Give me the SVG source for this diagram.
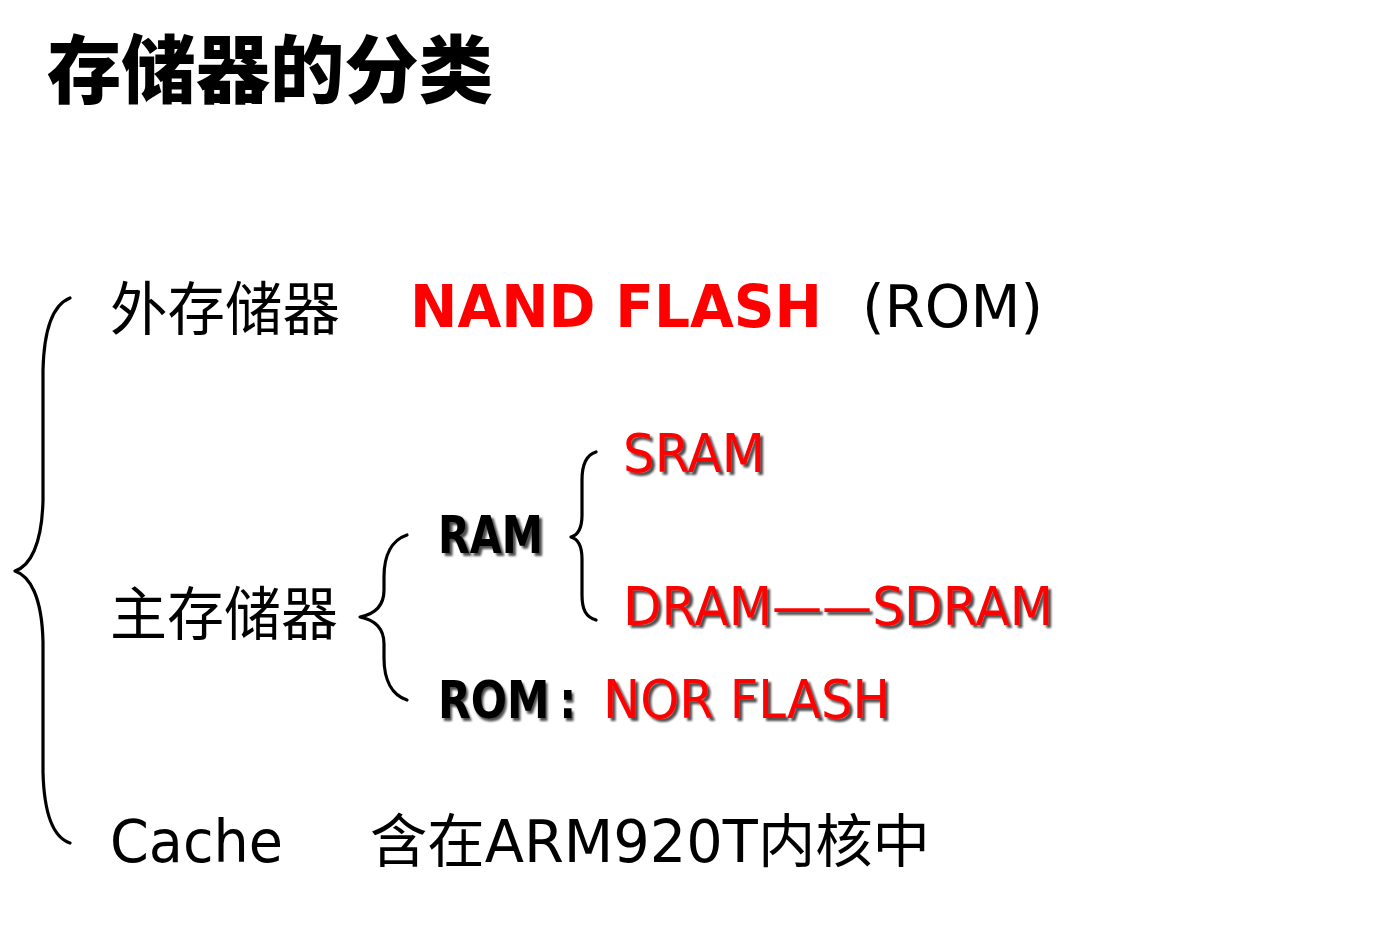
<svg xmlns="http://www.w3.org/2000/svg" width="1392" height="929" viewBox="0 0 1392 929">
<style>
.cjk{font-family:"Noto Sans CJK SC","DejaVu Sans",sans-serif;fill:#000}
.lat{font-family:"DejaVu Sans","Noto Sans CJK SC",sans-serif}
.red{fill:#ff0000}
.blk{fill:#000}
.brace{fill:none;stroke:#000;stroke-width:3.2;stroke-linecap:round;stroke-linejoin:round}
</style>
<defs>
<filter id="sh" x="-5%" y="-15%" width="115%" height="140%">
<feGaussianBlur in="SourceAlpha" stdDeviation="1"/>
<feOffset dx="2.5" dy="2.5" result="o"/>
<feComponentTransfer><feFuncA type="linear" slope="0.7"/></feComponentTransfer>
<feMerge><feMergeNode/><feMergeNode in="SourceGraphic"/></feMerge>
</filter>
</defs>
<rect width="1392" height="929" fill="#fff"/>
<g id="title"><text class="cjk" x="47" y="97" font-size="74" font-weight="900" textLength="446" lengthAdjust="spacingAndGlyphs">存储器的分类</text></g>
<g id="connectors">
<path class="brace" d="M70,298 C52,305 44,330 43,370 L43,500 C42,545 30,566 15,571 C30,576 42,597 43,642 L43,772 C44,812 52,837 70,843"/>
<path class="brace" d="M407,535 C392,540 384,555 384,577 L384,590 C384,606 375,614 360,617 C375,620 384,628 384,644 L384,658 C384,680 392,695 407,700"/>
<path class="brace" d="M596,452 C586,455 582,465 582,480 L582,515 C582,528 578,535 571,537 C578,539 582,546 582,559 L582,595 C582,610 586,617 596,620"/>
</g>
<g id="external">
<text class="cjk" x="110" y="330" font-size="58" textLength="230" lengthAdjust="spacingAndGlyphs">外存储器</text>
<text class="lat red" x="410" y="327" font-size="58" font-weight="bold" textLength="412" lengthAdjust="spacingAndGlyphs">NAND FLASH</text>
<text class="lat blk" x="862" y="327" font-size="58" textLength="181" lengthAdjust="spacingAndGlyphs">(ROM)</text>
</g>
<g id="main">
<text class="cjk" x="110" y="635" font-size="58" textLength="228" lengthAdjust="spacingAndGlyphs">主存储器</text>
</g>
<g id="ram"><text class="lat blk" x="438" y="553" font-size="52" font-weight="bold" textLength="105" lengthAdjust="spacingAndGlyphs" filter="url(#sh)">RAM</text></g>
<g id="sram"><text class="lat red" x="623" y="472" font-size="54" textLength="142" lengthAdjust="spacingAndGlyphs" filter="url(#sh)">SRAM</text></g>
<g id="dram"><text class="lat red" x="623" y="625" font-size="54" textLength="430" lengthAdjust="spacingAndGlyphs" filter="url(#sh)">DRAM——SDRAM</text></g>
<g id="rom">
<text class="lat blk" transform="translate(438,718) scale(0.82,1)" x="0" y="0" font-size="52" font-weight="bold" filter="url(#sh)">ROM<tspan x="148">:</tspan></text>
<text class="lat red" x="603" y="718" font-size="54" textLength="287" lengthAdjust="spacingAndGlyphs" filter="url(#sh)">NOR FLASH</text>
</g>
<g id="cache">
<text class="lat blk" x="110" y="862" font-size="58" textLength="173" lengthAdjust="spacingAndGlyphs">Cache</text>
<text class="cjk" x="370" y="862" font-size="58" textLength="560" lengthAdjust="spacingAndGlyphs"><tspan>含在</tspan><tspan style="font-family:'DejaVu Sans',sans-serif">ARM920T</tspan><tspan>内核中</tspan></text>
</g>
</svg>
